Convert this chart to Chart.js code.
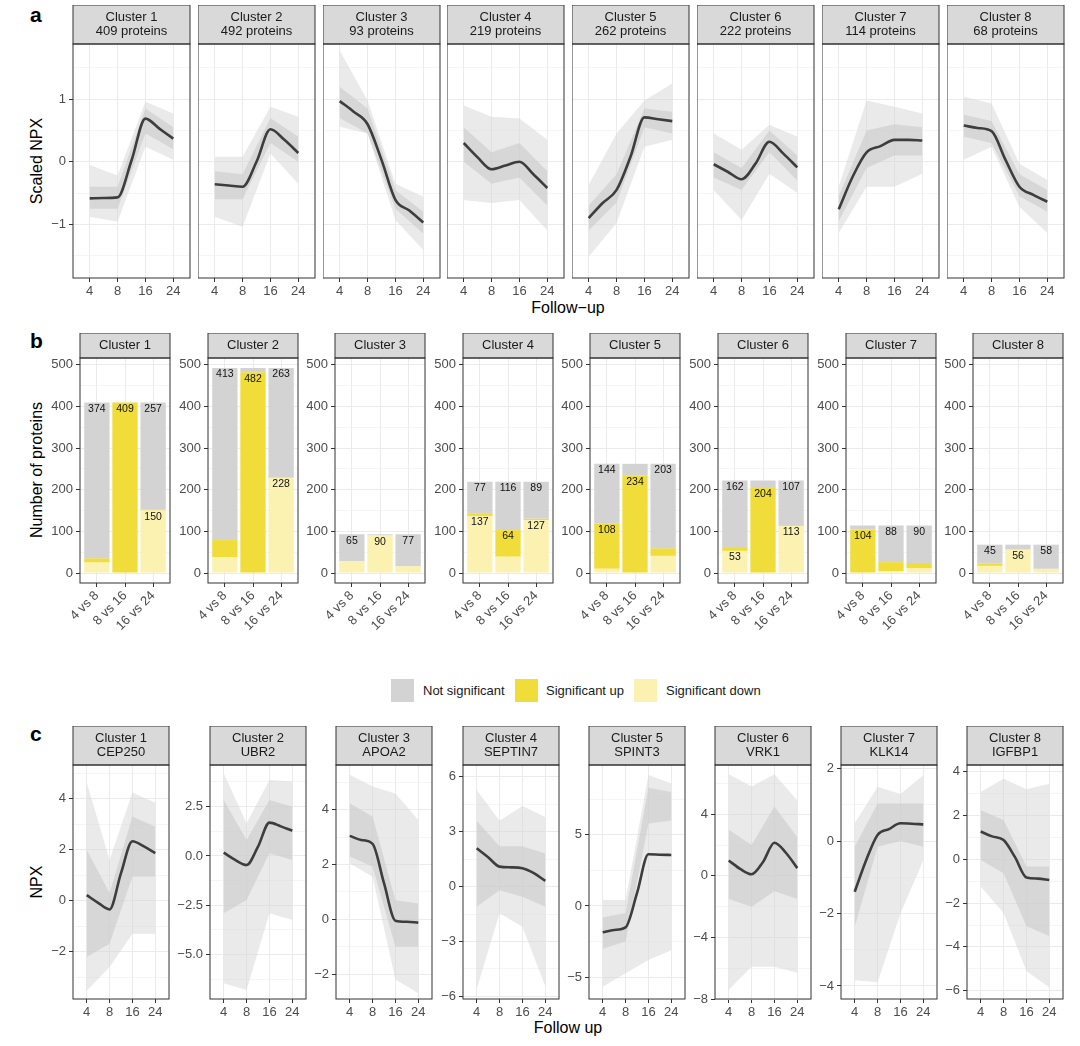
<!DOCTYPE html>
<html>
<head>
<meta charset="utf-8">
<script src="https://cdn.jsdelivr.net/npm/chart.js@4.4.1/dist/chart.umd.min.js"></script>
<style>
  body { margin: 0; width: 1080px; height: 1046px; position: relative; background: #fff; overflow: hidden;
    font-family: "Liberation Sans", Arial, sans-serif; color: #000; }
  canvas { position: absolute; }
  .txt { position: absolute; white-space: nowrap; transform: translate(-50%, -50%); }
  .tag { position: absolute; font-weight: bold; font-size: 21px; transform: translateY(-50%); }
  .ttl { font-size: 16px; }
  .rot { transform: translate(-50%, -50%) rotate(-90deg); }
  .key { position: absolute; top: 678.5px; width: 23px; height: 23px; }
  .ktxt { position: absolute; top: 690px; font-size: 13px; transform: translateY(-50%); color: #1a1a1a; }
</style>
</head>
<body>
<div class="tag" style="left:30px;top:15px">a</div>
<div class="txt ttl rot" style="left:37px;top:161px">Scaled NPX</div>
<div class="txt ttl" style="left:568px;top:308px">Follow−up</div>

<div class="tag" style="left:30px;top:341px">b</div>
<div class="txt ttl rot" style="left:37px;top:470px">Number of proteins</div>

<div class="key" style="left:391px;background:#d3d3d3"></div>
<div class="ktxt" style="left:423px">Not significant</div>
<div class="key" style="left:515px;background:#f0dd3a"></div>
<div class="ktxt" style="left:546px">Significant up</div>
<div class="key" style="left:634px;background:#fbf1b0"></div>
<div class="ktxt" style="left:666px">Significant down</div>

<div class="tag" style="left:30px;top:734px">c</div>
<div class="txt ttl rot" style="left:37px;top:882px">NPX</div>
<div class="txt ttl" style="left:568px;top:1028px">Follow up</div>

<script>
// ---- data ----
var followUp = ['4', '8', '16', '24'];
var smoothWeeks = [4, 6, 8, 12, 16, 20, 24];
var clusterNames = ['Cluster 1', 'Cluster 2', 'Cluster 3', 'Cluster 4', 'Cluster 5', 'Cluster 6', 'Cluster 7', 'Cluster 8'];
var clusterSizes = [409, 492, 93, 219, 262, 222, 114, 68];
var topProteins = ['CEP250', 'UBR2', 'APOA2', 'SEPTIN7', 'SPINT3', 'VRK1', 'KLK14', 'IGFBP1'];

// a: scaled NPX, cluster mean (smooth) and spread of member proteins
var aMean = [
  [-0.585, -0.58, -0.57, 0.02, 0.69, 0.53, 0.37],
  [-0.36, -0.38, -0.40, 0.0, 0.52, 0.35, 0.14],
  [0.97, 0.80, 0.60, 0.03, -0.61, -0.78, -0.97],
  [0.30, 0.07, -0.12, -0.06, 0.0, -0.2, -0.42],
  [-0.90, -0.66, -0.45, 0.08, 0.71, 0.68, 0.65],
  [-0.04, -0.16, -0.28, -0.03, 0.32, 0.13, -0.09],
  [-0.76, -0.24, 0.15, 0.25, 0.35, 0.35, 0.34],
  [0.58, 0.54, 0.49, 0.03, -0.40, -0.53, -0.64]
];
var aOuterLow = [[-0.88, -0.96, 0.24, 0.03], [-0.88, -1.04, 0.13, -0.35], [0.56, 0.45, -0.93, -1.41], [-0.61, -0.66, -0.61, -1.1],
  [-1.52, -0.98, 0.24, 0.35], [-0.45, -0.93, -0.19, -0.5], [-1.14, -0.4, -0.4, -0.19], [0.03, 0.24, -0.72, -1.14]];
var aOuterHigh = [[-0.05, -0.22, 0.96, 0.77], [0.08, 0.08, 0.88, 0.72], [1.78, 0.98, -0.35, -0.56], [0.9, 0.72, 0.69, 0.35],
  [-0.37, 0.45, 0.98, 1.25], [0.45, 0.19, 0.59, 0.4], [-0.4, 0.98, 0.88, 0.77], [1.04, 0.93, -0.03, -0.29]];
var aInnerLow = [[-0.75, -0.75, 0.45, 0.2], [-0.6, -0.6, 0.3, 0.0], [0.7, 0.45, -0.75, -1.15], [0.0, -0.35, -0.25, -0.7],
  [-1.1, -0.65, 0.55, 0.45], [-0.25, -0.45, 0.15, -0.3], [-0.95, -0.1, 0.1, 0.1], [0.4, 0.3, -0.55, -0.8]];
var aInnerHigh = [[-0.4, -0.4, 0.85, 0.55], [-0.15, -0.2, 0.7, 0.4], [1.2, 0.85, -0.45, -0.8], [0.55, 0.15, 0.3, -0.15],
  [-0.7, -0.2, 0.85, 0.8], [0.15, -0.1, 0.5, 0.1], [-0.55, 0.5, 0.6, 0.55], [0.75, 0.65, -0.2, -0.45]];
var aTicks = ['−1', '0', '1'];
var aRange = [-1.859, 1.883];

// b: number of proteins per comparison
var comparisons = ['4 vs 8', '8 vs 16', '16 vs 24'];
var notSig = [[374, 0, 257], [413, 10, 263], [65, 3, 77], [77, 116, 89], [144, 28, 203], [162, 18, 107], [10, 88, 90], [45, 12, 58]];
var sigUp = [[10, 409, 2], [41, 482, 1], [0, 0, 0], [5, 64, 3], [108, 234, 18], [7, 204, 2], [104, 22, 12], [6, 0, 0]];
var sigDown = [[25, 0, 150], [38, 0, 228], [28, 90, 16], [137, 39, 127], [10, 0, 41], [53, 0, 113], [0, 4, 12], [17, 56, 10]];
var bTicks = ['0', '100', '200', '300', '400', '500'];
var bRange = [-24, 516];

// c: NPX of top protein per cluster
var cMean = [
  [0.22, -0.08, -0.34, 1.08, 2.33, 2.13, 1.87],
  [0.17, -0.2, -0.46, 0.47, 1.69, 1.5, 1.28],
  [3.05, 2.9, 2.76, 1.32, -0.05, -0.09, -0.12],
  [2.09, 1.6, 1.09, 1.05, 1.0, 0.73, 0.31],
  [-1.85, -1.68, -1.5, 0.9, 3.63, 3.6, 3.58],
  [1.0, 0.45, 0.1, 0.9, 2.15, 1.5, 0.5],
  [-1.4, -0.53, 0.17, 0.33, 0.49, 0.48, 0.46],
  [1.27, 1.05, 0.88, 0.1, -0.83, -0.88, -0.94]
];
var cOuterLow = [[-3.53, -2.6, -1.29, -1.29], [-6.45, -6.8, -2.9, -3.24], [2.05, 1.56, -2.2, -2.7], [-5.6, -1.45, -2.2, -5.45],
  [-5.67, -4.73, -3.8, -3.1], [-7.4, -5.9, -5.9, -6.3], [-3.84, -3.9, -2.0, -0.53], [-1.24, -2.45, -5.1, -5.86]];
var cOuterHigh = [[4.63, 1.6, 4.24, 3.84], [4.19, 1.66, 3.85, 3.77], [5.28, 4.85, 4.6, 3.63], [5.27, 3.6, 4.4, 3.8],
  [0.42, 0.42, 9.2, 8.6], [6.6, 5.8, 6.6, 4.9], [0.49, 1.5, 1.3, 1.82], [3.08, 3.68, 3.2, 3.45]];
var cInnerLow = [[-2.2, -1.68, 0.95, 0.95], [-2.9, -2.23, 0.14, -0.2], [2.3, 1.93, -1.0, -1.0], [-1.1, -0.2, -0.55, -1.1],
  [-3.0, -2.5, 5.8, 6.0], [-1.5, -2.0, -1.0, -1.5], [-2.37, -0.16, 0.0, -0.16], [-0.03, -0.64, -3.06, -3.5]];
var cInnerHigh = [[2.0, 0.3, 3.3, 2.9], [2.84, 0.81, 2.84, 2.5], [4.24, 3.76, 0.7, 0.58], [3.6, 2.2, 2.2, 1.8],
  [-0.8, -0.5, 8.3, 8.0], [3.0, 2.0, 4.5, 2.5], [-0.16, 1.04, 1.04, 1.04], [2.24, 1.8, -0.33, -0.33]];
var cTicks = [['−2', '0', '2', '4'], ['−5.0', '−2.5', '0.0', '2.5'], ['−2', '0', '2', '4'], ['−6', '−3', '0', '3', '6'],
  ['−5', '0', '5'], ['−8', '−4', '0', '4'], ['−4', '−2', '0', '2'], ['−6', '−4', '−2', '0', '2', '4']];
var cYMin = [-3.85, -7.25, -2.91, -6.14, -6.53, -8.0, -4.36, -6.38];
var cYMax = [5.32, 4.61, 5.64, 6.64, 9.9, 7.2, 2.1, 4.31];

// ---- helpers ----
Chart.defaults.font.family = '"Liberation Sans", Arial, sans-serif';

function weekPos(w) {
  var wk = followUp.map(Number);
  for (var i = 0; i < wk.length - 1; i++) {
    if (w <= wk[i + 1]) return i + 1 + (w - wk[i]) / (wk[i + 1] - wk[i]);
  }
  return wk.length;
}
function toNum(s) { return Number(s.replace('−', '-')); }
// major ticks + ggplot style minor ticks halfway
function yTicks(labels, min, max) {
  var maj = labels.map(toNum), step = maj[1] - maj[0], out = [];
  for (var v = maj[0] - step; v <= max + 1e-9; v += step / 2) {
    if (v >= min - 1e-9) out.push(Math.round(v * 1000) / 1000);
  }
  return out.map(function (v) { return { value: v }; });
}
function addCanvas(left, top, w, h) {
  var c = document.createElement('canvas');
  c.width = w; c.height = h;
  c.style.left = left + 'px'; c.style.top = top + 'px';
  c.style.width = w + 'px'; c.style.height = h + 'px';
  document.body.appendChild(c);
  return c;
}

// strip on top + panel border
var facetPlugin = {
  id: 'facet',
  afterDraw: function (chart, args, opts) {
    var ctx = chart.ctx, a = chart.chartArea, w = a.right - a.left;
    ctx.save();
    ctx.fillStyle = '#d9d9d9';
    ctx.fillRect(a.left, a.top - opts.stripH, w, opts.stripH);
    ctx.strokeStyle = '#333333';
    ctx.lineWidth = 1;
    ctx.strokeRect(a.left, a.top - opts.stripH, w, opts.stripH);
    ctx.strokeRect(a.left, a.top, w, a.bottom - a.top);
    ctx.fillStyle = '#1a1a1a';
    ctx.font = '13px "Liberation Sans", Arial, sans-serif';
    ctx.textAlign = 'center';
    ctx.textBaseline = 'middle';
    var n = opts.lines.length;
    opts.lines.forEach(function (t, i) {
      ctx.fillText(t, (a.left + a.right) / 2, a.top - opts.stripH / 2 + (i - (n - 1) / 2) * 14);
    });
    ctx.restore();
  }
};

// counts written in the bars
var barLabelPlugin = {
  id: 'barLabels',
  afterDatasetsDraw: function (chart) {
    var ctx = chart.ctx;
    ctx.save();
    ctx.fillStyle = '#111';
    ctx.font = '10.5px "Liberation Sans", Arial, sans-serif';
    ctx.textAlign = 'center';
    ctx.textBaseline = 'middle';
    chart.data.datasets.forEach(function (ds, di) {
      chart.getDatasetMeta(di).data.forEach(function (bar, i) {
        var v = ds.data[i].y;
        if (v >= 45) ctx.fillText(v, bar.x, bar.y + 6.5);
      });
    });
    ctx.restore();
  }
};

function yScale(labels, min, max, wy, showY) {
  var majors = labels.map(toNum);
  var isMaj = function (c) {
    return c.tick && majors.some(function (m) { return Math.abs(m - c.tick.value) < 1e-6; });
  };
  return {
    type: 'linear', min: min, max: max,
    afterBuildTicks: function (s) { s.ticks = yTicks(labels, min, max); },
    afterFit: function (s) { s.width = wy; },
    ticks: {
      display: showY, autoSkip: false, color: '#4d4d4d', font: { size: 13 }, padding: 3,
      callback: function (v) {
        var k = majors.findIndex(function (m) { return Math.abs(m - v) < 1e-6; });
        return k < 0 ? '' : labels[k];
      }
    },
    grid: {
      color: '#ebebeb', drawTicks: showY, tickLength: 4,
      lineWidth: function (c) { return isMaj(c) ? 1 : 0.5; },
      tickColor: function (c) { return isMaj(c) ? '#333333' : 'rgba(0,0,0,0)'; }
    },
    border: { display: false }
  };
}

function trajChart(cv, o) {
  var pts = function (arr) { return arr.map(function (v, i) { return { x: i + 1, y: v }; }); };
  var band = { borderWidth: 0, pointRadius: 0, showLine: true };
  new Chart(cv, {
    type: 'line',
    data: {
      datasets: [
        Object.assign({ data: pts(o.outLo), fill: false, order: 4 }, band),
        Object.assign({ data: pts(o.outHi), fill: '-1', backgroundColor: 'rgba(214,214,214,0.5)', order: 3 }, band),
        Object.assign({ data: pts(o.inLo), fill: false, order: 2 }, band),
        Object.assign({ data: pts(o.inHi), fill: '-1', backgroundColor: 'rgba(200,200,200,0.55)', order: 1 }, band),
        {
          // smooth cluster trend, drawn on top
          data: o.mean.map(function (v, i) { return { x: weekPos(smoothWeeks[i]), y: v }; }),
          borderColor: '#3d3d3d', borderWidth: 2.6, pointRadius: 0, fill: false, order: 0,
          cubicInterpolationMode: 'monotone'
        }
      ]
    },
    options: {
      responsive: false, animation: false,
      layout: { padding: { top: o.stripH, right: 2, left: 0, bottom: 0 } },
      plugins: { legend: { display: false }, tooltip: { enabled: false }, facet: { lines: o.lines, stripH: o.stripH } },
      scales: {
        x: {
          type: 'linear', min: 0.4, max: 4.6, offset: false,
          afterBuildTicks: function (s) { s.ticks = followUp.map(function (t, i) { return { value: i + 1 }; }); },
          afterFit: function (s) { s.height = o.xH; },
          ticks: {
            autoSkip: false, maxRotation: 0, color: '#4d4d4d', font: { size: 13 }, padding: 2,
            callback: function (v) { return followUp[Math.round(v) - 1]; }
          },
          grid: { color: '#ebebeb', tickColor: '#333333', tickLength: 4, offset: false },
          border: { display: false }
        },
        y: yScale(o.yLabels, o.yMin, o.yMax, o.wy, o.showY)
      }
    },
    plugins: [facetPlugin]
  });
}

function barChart(cv, k, o) {
  var pts = function (arr) { return arr.map(function (v, i) { return { x: i + 1, y: v }; }); };
  new Chart(cv, {
    type: 'bar',
    data: {
      datasets: [
        { label: 'Significant down', data: pts(sigDown[k]), backgroundColor: '#fbf1b0' },
        { label: 'Significant up', data: pts(sigUp[k]), backgroundColor: '#f0dd3a' },
        { label: 'Not significant', data: pts(notSig[k]), backgroundColor: '#d3d3d3' }
      ]
    },
    options: {
      responsive: false, animation: false,
      barPercentage: 0.9, categoryPercentage: 1,
      layout: { padding: { top: o.stripH, right: 2, left: 0, bottom: 0 } },
      plugins: { legend: { display: false }, tooltip: { enabled: false }, facet: { lines: [clusterNames[k]], stripH: o.stripH } },
      scales: {
        x: {
          type: 'linear', min: 0.4, max: 3.6, offset: false, stacked: true,
          afterBuildTicks: function (s) { s.ticks = comparisons.map(function (t, i) { return { value: i + 1 }; }); },
          afterFit: function (s) { s.height = o.xH; },
          ticks: {
            autoSkip: false, minRotation: 45, maxRotation: 45, color: '#4d4d4d', font: { size: 13 }, padding: 1,
            callback: function (v) { return comparisons[Math.round(v) - 1]; }
          },
          grid: { color: '#ebebeb', tickColor: '#333333', tickLength: 4, offset: false },
          border: { display: false }
        },
        y: Object.assign(yScale(bTicks, bRange[0], bRange[1], o.wy, true), { stacked: true })
      }
    },
    plugins: [facetPlugin, barLabelPlugin]
  });
}

// ---- panel a ----
clusterNames.forEach(function (name, k) {
  var plotLeft = 72.7 + k * 124.9, wy = k === 0 ? 36 : 0;
  var cv = addCanvas(plotLeft - wy, 5, Math.round(wy + 117 + 2), 297);
  trajChart(cv, {
    lines: [name, clusterSizes[k] + ' proteins'], stripH: 39, xH: 24, wy: wy, showY: k === 0,
    yLabels: aTicks, yMin: aRange[0], yMax: aRange[1],
    mean: aMean[k], outLo: aOuterLow[k], outHi: aOuterHigh[k], inLo: aInnerLow[k], inHi: aInnerHigh[k]
  });
});

// ---- panel b ----
clusterNames.forEach(function (name, k) {
  var plotLeft = 79.9 + k * 127.6, wy = 40;
  var cv = addCanvas(plotLeft - wy, 333, Math.round(wy + 90 + 2), 308);
  barChart(cv, k, { stripH: 25, xH: 58, wy: wy });
});

// ---- panel c ----
var cLefts = [72.7, 210, 336.4, 462.5, 588.6, 715, 841.3, 967];
clusterNames.forEach(function (name, k) {
  var wy = 40;
  var cv = addCanvas(cLefts[k] - wy, 726, Math.round(wy + 96 + 2), 297);
  trajChart(cv, {
    lines: [name, topProteins[k]], stripH: 39, xH: 24, wy: wy, showY: true,
    yLabels: cTicks[k], yMin: cYMin[k], yMax: cYMax[k],
    mean: cMean[k], outLo: cOuterLow[k], outHi: cOuterHigh[k], inLo: cInnerLow[k], inHi: cInnerHigh[k]
  });
});
</script>
</body>
</html>
